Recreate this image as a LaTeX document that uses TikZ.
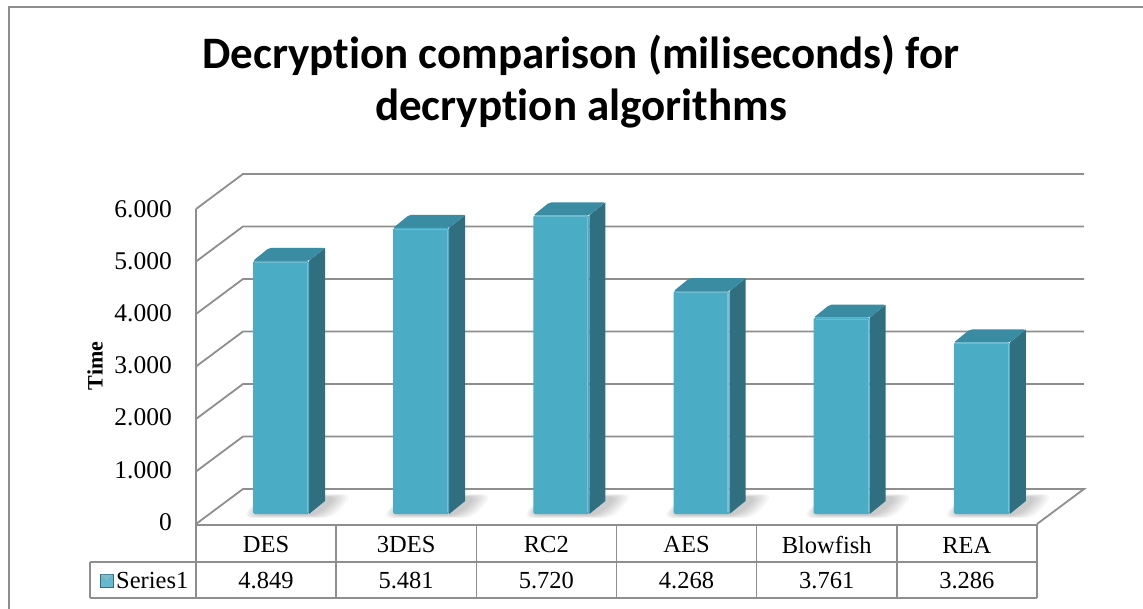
\documentclass[tikz,border=0pt]{standalone}
\usepackage{fontspec}
\setmainfont{Liberation Serif}
\newfontfamily\titlefont[Ligatures=NoCommon]{Carlito}
\definecolor{barfront}{HTML}{4BACC6}
\definecolor{barside}{HTML}{2F6F80}
\definecolor{bartop}{HTML}{3A8CA3}
\definecolor{gridc}{HTML}{8E8E8E}
\tikzset{
  gridline/.style={draw=gridc, line width=1.8pt},
  tabline/.style={draw=gridc, line width=1.6pt},
  ticklbl/.style={anchor=east, inner sep=0pt, font=\fontsize{25.5}{25}\selectfont},
  cell/.style={inner sep=0pt, font=\fontsize{24.5}{25}\selectfont},
  titletext/.style={align=center, font=\titlefont\bfseries\fontsize{45}{52}\selectfont}
}
\begin{document}
\begin{tikzpicture}[x=1pt,y=-1pt]
\useasboundingbox (0,0) rectangle (1143,609);
\fill[white] (0,0) rectangle (1143,609);
% outer frame
\draw[gridc, line width=2pt] (9,609) -- (9,7) -- (1143,7);
% title
\node[titletext] (title) at (581,82) {Decryption comparison (miliseconds) for\\decryption algorithms};
% walls and gridlines
\foreach \k in {1,...,6}{
  \draw[gridline] (196,{524-52.5*\k}) -- (243,{489-52.5*\k}) -- (1084,{489-52.5*\k});
}
\draw[gridline] (196,524) -- (243,489) -- (1084,489) -- (1037,524);
\draw[gridline] (196,209) -- (196,598);
% tick labels
\foreach \k/\t in {0/0,1/1.000,2/2.000,3/3.000,4/4.000,5/5.000,6/6.000}{
  \node[ticklbl] (tick\k) at (172,{522-52.2*\k}) {\t};
}
\node[rotate=90, inner sep=0pt, font=\bfseries\fontsize{22}{22}\selectfont] (ylabel) at (95,366) {Time};
% bars
\foreach \i/\v in {0/4.849,1/5.481,2/5.720,3/4.268,4/3.761,5/3.286}{
  \pgfmathsetmacro{\xl}{196+140.17*\i+57}
  \pgfmathsetmacro{\xr}{\xl+56}
  \pgfmathsetmacro{\yt}{514-52.2*\v}
  % soft shadow
  \foreach \s in {12,10,8,6,4,2}{
    \fill[black, opacity=0.035, rounded corners=10pt] (\xl-\s,515+\s*0.25) -- (\xr+6+\s*1.5,515+\s*0.25) -- (\xr+26+\s*1.5,{497-\s*0.25}) -- (\xl+10,{497-\s*0.25}) -- cycle;
  }
  \fill[barside] (\xr,514) -- (\xr+16,501) -- (\xr+16,\yt-13) -- (\xr,\yt) -- cycle;
  \fill[bartop, rounded corners=2pt] (\xl,\yt) -- (\xl+16,\yt-13) -- (\xr+16,\yt-13) -- (\xr,\yt) -- cycle;
  \fill[barfront, rounded corners=1.5pt] (\xl,514) rectangle (\xr,\yt);
  \draw[white, opacity=0.25, line width=1.2pt] (\xr-1.5,512) -- (\xr-1.5,\yt+2);
  \draw[white, opacity=0.2, line width=1pt] (\xl+2,\yt+1.5) -- (\xr-2,\yt+1.5);
}
% table
\draw[tabline] (196,525) -- (1037,525);
\draw[tabline] (90,562) -- (1037,562);
\draw[tabline] (90,598) -- (1037,598);
\draw[tabline] (90,562) -- (90,598);
\foreach \i in {1,...,6}{
  \draw[tabline] ({196+140.17*\i},524) -- ({196+140.17*\i},598);
}
\foreach \i/\c/\v in {0/DES/4.849,1/3DES/5.481,2/RC2/5.720,3/AES/4.268,4/Blowfish/3.761,5/REA/3.286}{
  \node[cell] (cat\i) at ({196+140.17*\i+70},545) {\c};
  \node[cell] (val\i) at ({196+140.17*\i+70},581) {\v};
}
% legend key
\fill[barfront!85!white] (100,574) rectangle (113,587);
\draw[barside, line width=0.8pt] (100,574) rectangle (113,587);
\fill[bartop!60!white] (100.5,574.5) -- (112.5,574.5) -- (106.5,580) -- cycle;
\node[cell, anchor=west] (series) at (116,581) {Series1};
\end{tikzpicture}
\end{document}
